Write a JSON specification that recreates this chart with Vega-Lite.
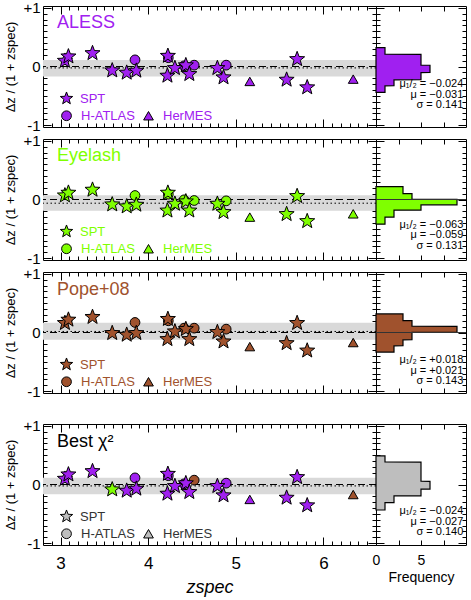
{
"$schema":"https://vega.github.io/schema/vega-lite/v6.json",
"padding":{"left":4,"top":0,"right":0,"bottom":0},
"config":{"font":"Liberation Sans","view":{"stroke":"black","strokeWidth":1},"axis":{"domain":false,"grid":false,"tickColor":"black","labelColor":"black","titleColor":"black","titleFontWeight":"normal","tickWidth":1,"labelFont":"Liberation Sans","titleFont":"Liberation Sans"},"legend":{"labelFont":"Liberation Sans"}},
"datasets":{
"stats":[
{"panel":"ALESS","label":"ALESS","muh":-0.024,"blo":-0.172,"bhi":0.110,"st":"μ₁/₂ = −0.024\nμ = −0.031\nσ = 0.141"},
{"panel":"Eyelash","label":"Eyelash","muh":-0.063,"blo":-0.190,"bhi":0.072,"st":"μ₁/₂ = −0.063\nμ = −0.059\nσ = 0.131"},
{"panel":"Pope","label":"Pope+08","muh":0.018,"blo":-0.122,"bhi":0.164,"st":"μ₁/₂ = +0.018\nμ = +0.021\nσ = 0.143"},
{"panel":"Best","label":"Best χ²","muh":-0.024,"blo":-0.167,"bhi":0.113,"st":"μ₁/₂ = −0.024\nμ = −0.027\nσ = 0.140"}
],
"hstep":[
{"panel":"ALESS","y":-0.44,"n":1},{"panel":"ALESS","y":-0.329,"n":1},{"panel":"ALESS","y":-0.328,"n":2},{"panel":"ALESS","y":-0.226,"n":2},{"panel":"ALESS","y":-0.225,"n":5},{"panel":"ALESS","y":-0.103,"n":5},{"panel":"ALESS","y":-0.102,"n":6},{"panel":"ALESS","y":0.021,"n":6},{"panel":"ALESS","y":0.022,"n":5},{"panel":"ALESS","y":0.208,"n":5},{"panel":"ALESS","y":0.209,"n":1},{"panel":"ALESS","y":0.322,"n":1},
{"panel":"Eyelash","y":-0.42,"n":1},{"panel":"Eyelash","y":-0.301,"n":1},{"panel":"Eyelash","y":-0.30,"n":2},{"panel":"Eyelash","y":-0.181,"n":2},{"panel":"Eyelash","y":-0.18,"n":5},{"panel":"Eyelash","y":-0.091,"n":5},{"panel":"Eyelash","y":-0.09,"n":9},{"panel":"Eyelash","y":0.004,"n":9},{"panel":"Eyelash","y":0.005,"n":4},{"panel":"Eyelash","y":0.099,"n":4},{"panel":"Eyelash","y":0.10,"n":3},{"panel":"Eyelash","y":0.22,"n":3},
{"panel":"Pope","y":-0.334,"n":2},{"panel":"Pope","y":-0.227,"n":2},{"panel":"Pope","y":-0.226,"n":3},{"panel":"Pope","y":-0.124,"n":3},{"panel":"Pope","y":-0.123,"n":4},{"panel":"Pope","y":0.002,"n":4},{"panel":"Pope","y":0.003,"n":9},{"panel":"Pope","y":0.105,"n":9},{"panel":"Pope","y":0.106,"n":4},{"panel":"Pope","y":0.201,"n":4},{"panel":"Pope","y":0.202,"n":3},{"panel":"Pope","y":0.317,"n":3},
{"panel":"Best","y":-0.434,"n":1},{"panel":"Best","y":-0.308,"n":1},{"panel":"Best","y":-0.307,"n":2},{"panel":"Best","y":-0.194,"n":2},{"panel":"Best","y":-0.193,"n":5},{"panel":"Best","y":-0.079,"n":5},{"panel":"Best","y":-0.078,"n":6},{"panel":"Best","y":0.054,"n":6},{"panel":"Best","y":0.055,"n":5},{"panel":"Best","y":0.382,"n":5},{"panel":"Best","y":0.383,"n":1},{"panel":"Best","y":0.486,"n":1}
],
"pts":[
{"panel":"ALESS","z":3.05,"dz":0.096,"survey":"SPT","tmpl":"ALESS"},
{"panel":"ALESS","z":3.09,"dz":0.17,"survey":"SPT","tmpl":"ALESS"},
{"panel":"ALESS","z":3.365,"dz":0.226,"survey":"SPT","tmpl":"ALESS"},
{"panel":"ALESS","z":3.59,"dz":-0.068,"survey":"SPT","tmpl":"ALESS"},
{"panel":"ALESS","z":3.755,"dz":-0.107,"survey":"SPT","tmpl":"ALESS"},
{"panel":"ALESS","z":3.85,"dz":0.113,"survey":"H-ATLAS","tmpl":"ALESS"},
{"panel":"ALESS","z":3.865,"dz":-0.073,"survey":"SPT","tmpl":"ALESS"},
{"panel":"ALESS","z":4.225,"dz":0.18,"survey":"SPT","tmpl":"ALESS"},
{"panel":"ALESS","z":4.23,"dz":0.15,"survey":"H-ATLAS","tmpl":"ALESS"},
{"panel":"ALESS","z":4.22,"dz":-0.158,"survey":"SPT","tmpl":"ALESS"},
{"panel":"ALESS","z":4.305,"dz":-0.028,"survey":"SPT","tmpl":"ALESS"},
{"panel":"ALESS","z":4.41,"dz":0.011,"survey":"H-ATLAS","tmpl":"ALESS"},
{"panel":"ALESS","z":4.43,"dz":0.02,"survey":"SPT","tmpl":"ALESS"},
{"panel":"ALESS","z":4.47,"dz":-0.13,"survey":"SPT","tmpl":"ALESS"},
{"panel":"ALESS","z":4.525,"dz":0.023,"survey":"H-ATLAS","tmpl":"ALESS"},
{"panel":"ALESS","z":4.79,"dz":-0.028,"survey":"SPT","tmpl":"ALESS"},
{"panel":"ALESS","z":4.86,"dz":-0.186,"survey":"SPT","tmpl":"ALESS"},
{"panel":"ALESS","z":4.89,"dz":0.023,"survey":"H-ATLAS","tmpl":"ALESS"},
{"panel":"ALESS","z":5.16,"dz":-0.254,"survey":"HerMES","tmpl":"ALESS"},
{"panel":"ALESS","z":5.58,"dz":-0.226,"survey":"SPT","tmpl":"ALESS"},
{"panel":"ALESS","z":5.7,"dz":0.124,"survey":"SPT","tmpl":"ALESS"},
{"panel":"ALESS","z":5.815,"dz":-0.356,"survey":"SPT","tmpl":"ALESS"},
{"panel":"ALESS","z":6.34,"dz":-0.215,"survey":"HerMES","tmpl":"ALESS"},
{"panel":"Eyelash","z":3.05,"dz":0.068,"survey":"SPT","tmpl":"Eyelash"},
{"panel":"Eyelash","z":3.09,"dz":0.114,"survey":"SPT","tmpl":"Eyelash"},
{"panel":"Eyelash","z":3.365,"dz":0.165,"survey":"SPT","tmpl":"Eyelash"},
{"panel":"Eyelash","z":3.59,"dz":-0.085,"survey":"SPT","tmpl":"Eyelash"},
{"panel":"Eyelash","z":3.755,"dz":-0.119,"survey":"SPT","tmpl":"Eyelash"},
{"panel":"Eyelash","z":3.85,"dz":0.068,"survey":"H-ATLAS","tmpl":"Eyelash"},
{"panel":"Eyelash","z":3.865,"dz":-0.091,"survey":"SPT","tmpl":"Eyelash"},
{"panel":"Eyelash","z":4.225,"dz":0.114,"survey":"SPT","tmpl":"Eyelash"},
{"panel":"Eyelash","z":4.23,"dz":0.09,"survey":"H-ATLAS","tmpl":"Eyelash"},
{"panel":"Eyelash","z":4.22,"dz":-0.19,"survey":"SPT","tmpl":"Eyelash"},
{"panel":"Eyelash","z":4.305,"dz":-0.074,"survey":"SPT","tmpl":"Eyelash"},
{"panel":"Eyelash","z":4.41,"dz":-0.006,"survey":"H-ATLAS","tmpl":"Eyelash"},
{"panel":"Eyelash","z":4.43,"dz":-0.034,"survey":"SPT","tmpl":"Eyelash"},
{"panel":"Eyelash","z":4.47,"dz":-0.19,"survey":"SPT","tmpl":"Eyelash"},
{"panel":"Eyelash","z":4.525,"dz":-0.017,"survey":"H-ATLAS","tmpl":"Eyelash"},
{"panel":"Eyelash","z":4.79,"dz":-0.074,"survey":"SPT","tmpl":"Eyelash"},
{"panel":"Eyelash","z":4.86,"dz":-0.216,"survey":"SPT","tmpl":"Eyelash"},
{"panel":"Eyelash","z":4.89,"dz":-0.023,"survey":"H-ATLAS","tmpl":"Eyelash"},
{"panel":"Eyelash","z":5.16,"dz":-0.30,"survey":"HerMES","tmpl":"Eyelash"},
{"panel":"Eyelash","z":5.58,"dz":-0.25,"survey":"SPT","tmpl":"Eyelash"},
{"panel":"Eyelash","z":5.7,"dz":0.057,"survey":"SPT","tmpl":"Eyelash"},
{"panel":"Eyelash","z":5.815,"dz":-0.37,"survey":"SPT","tmpl":"Eyelash"},
{"panel":"Eyelash","z":6.34,"dz":-0.244,"survey":"HerMES","tmpl":"Eyelash"},
{"panel":"Pope","z":3.05,"dz":0.16,"survey":"SPT","tmpl":"Pope+08"},
{"panel":"Pope","z":3.09,"dz":0.217,"survey":"SPT","tmpl":"Pope+08"},
{"panel":"Pope","z":3.365,"dz":0.263,"survey":"SPT","tmpl":"Pope+08"},
{"panel":"Pope","z":3.59,"dz":-0.011,"survey":"SPT","tmpl":"Pope+08"},
{"panel":"Pope","z":3.755,"dz":-0.04,"survey":"SPT","tmpl":"Pope+08"},
{"panel":"Pope","z":3.85,"dz":0.171,"survey":"H-ATLAS","tmpl":"Pope+08"},
{"panel":"Pope","z":3.865,"dz":-0.011,"survey":"SPT","tmpl":"Pope+08"},
{"panel":"Pope","z":4.225,"dz":0.229,"survey":"SPT","tmpl":"Pope+08"},
{"panel":"Pope","z":4.23,"dz":0.2,"survey":"H-ATLAS","tmpl":"Pope+08"},
{"panel":"Pope","z":4.22,"dz":-0.114,"survey":"SPT","tmpl":"Pope+08"},
{"panel":"Pope","z":4.305,"dz":0.017,"survey":"SPT","tmpl":"Pope+08"},
{"panel":"Pope","z":4.41,"dz":0.074,"survey":"H-ATLAS","tmpl":"Pope+08"},
{"panel":"Pope","z":4.43,"dz":0.057,"survey":"SPT","tmpl":"Pope+08"},
{"panel":"Pope","z":4.47,"dz":-0.114,"survey":"SPT","tmpl":"Pope+08"},
{"panel":"Pope","z":4.525,"dz":0.074,"survey":"H-ATLAS","tmpl":"Pope+08"},
{"panel":"Pope","z":4.79,"dz":0.006,"survey":"SPT","tmpl":"Pope+08"},
{"panel":"Pope","z":4.86,"dz":-0.154,"survey":"SPT","tmpl":"Pope+08"},
{"panel":"Pope","z":4.89,"dz":0.057,"survey":"H-ATLAS","tmpl":"Pope+08"},
{"panel":"Pope","z":5.16,"dz":-0.24,"survey":"HerMES","tmpl":"Pope+08"},
{"panel":"Pope","z":5.58,"dz":-0.183,"survey":"SPT","tmpl":"Pope+08"},
{"panel":"Pope","z":5.7,"dz":0.16,"survey":"SPT","tmpl":"Pope+08"},
{"panel":"Pope","z":5.815,"dz":-0.309,"survey":"SPT","tmpl":"Pope+08"},
{"panel":"Pope","z":6.34,"dz":-0.171,"survey":"HerMES","tmpl":"Pope+08"},
{"panel":"Best","z":3.05,"dz":0.096,"survey":"SPT","tmpl":"ALESS"},
{"panel":"Best","z":3.09,"dz":0.17,"survey":"SPT","tmpl":"ALESS"},
{"panel":"Best","z":3.365,"dz":0.226,"survey":"SPT","tmpl":"ALESS"},
{"panel":"Best","z":3.59,"dz":-0.085,"survey":"SPT","tmpl":"Eyelash"},
{"panel":"Best","z":3.755,"dz":-0.107,"survey":"SPT","tmpl":"ALESS"},
{"panel":"Best","z":3.85,"dz":0.113,"survey":"H-ATLAS","tmpl":"ALESS"},
{"panel":"Best","z":3.865,"dz":-0.073,"survey":"SPT","tmpl":"ALESS"},
{"panel":"Best","z":4.225,"dz":0.18,"survey":"SPT","tmpl":"ALESS"},
{"panel":"Best","z":4.23,"dz":0.15,"survey":"H-ATLAS","tmpl":"ALESS"},
{"panel":"Best","z":4.22,"dz":-0.158,"survey":"SPT","tmpl":"ALESS"},
{"panel":"Best","z":4.305,"dz":-0.028,"survey":"SPT","tmpl":"ALESS"},
{"panel":"Best","z":4.41,"dz":0.011,"survey":"H-ATLAS","tmpl":"ALESS"},
{"panel":"Best","z":4.43,"dz":0.02,"survey":"SPT","tmpl":"ALESS"},
{"panel":"Best","z":4.47,"dz":-0.13,"survey":"SPT","tmpl":"ALESS"},
{"panel":"Best","z":4.525,"dz":0.074,"survey":"H-ATLAS","tmpl":"Pope+08"},
{"panel":"Best","z":4.79,"dz":-0.028,"survey":"SPT","tmpl":"ALESS"},
{"panel":"Best","z":4.86,"dz":-0.186,"survey":"SPT","tmpl":"ALESS"},
{"panel":"Best","z":4.89,"dz":0.023,"survey":"H-ATLAS","tmpl":"ALESS"},
{"panel":"Best","z":5.16,"dz":-0.254,"survey":"HerMES","tmpl":"ALESS"},
{"panel":"Best","z":5.58,"dz":-0.226,"survey":"SPT","tmpl":"ALESS"},
{"panel":"Best","z":5.7,"dz":0.124,"survey":"SPT","tmpl":"ALESS"},
{"panel":"Best","z":5.815,"dz":-0.356,"survey":"SPT","tmpl":"ALESS"},
{"panel":"Best","z":6.34,"dz":-0.171,"survey":"HerMES","tmpl":"Pope+08"}
]
},
"columns":2,
"align":"each",
"bounds":"flush",
"spacing":{"row":12,"column":0},
"concat":[
{"width":333,"height":121,
"layer":[
{"data":{"name":"stats"},"transform":[{"filter":"datum.panel=='ALESS'"}],"mark":{"type":"rect","color":"#d9d9d9"},"encoding":{"x":{"datum":2.8,"type":"quantitative","scale":{"domain":[2.8,6.6],"nice":false,"zero":false},"axis":null},"x2":{"datum":6.6},"y":{"field":"blo","type":"quantitative","scale":{"domain":[-1.03,1.03],"nice":false,"zero":false},"axis":null},"y2":{"field":"bhi"}}},
{"data":{"name":"stats"},"transform":[{"filter":"datum.panel=='ALESS'"}],"mark":{"type":"rule","color":"black","strokeDash":[7,4],"strokeWidth":1},"encoding":{"y":{"datum":0,"type":"quantitative","scale":{"domain":[-1.03,1.03],"nice":false,"zero":false},"axis":null}}},
{"data":{"name":"stats"},"transform":[{"filter":"datum.panel=='ALESS'"}],"mark":{"type":"rule","color":"black","strokeDash":[1.5,2.5],"strokeWidth":1},"encoding":{"y":{"field":"muh","type":"quantitative","scale":{"domain":[-1.03,1.03],"nice":false,"zero":false},"axis":null}}},
{"data":{"name":"pts"},"transform":[{"filter":"datum.panel=='ALESS' && datum.survey!='SPT'"}],"mark":{"type":"point","filled":true,"opacity":1,"stroke":"black","strokeWidth":1,"size":95},"encoding":{"x":{"field":"z","type":"quantitative","scale":{"domain":[2.8,6.6],"nice":false,"zero":false},"axis":{"orient":"bottom","values":[2.9,3,3.1,3.2,3.3,3.4,3.5,3.6,3.7,3.8,3.9,4,4.1,4.2,4.3,4.4,4.5,4.6,4.7,4.8,4.9,5,5.1,5.2,5.3,5.4,5.5,5.6,5.7,5.8,5.9,6,6.1,6.2,6.3,6.4,6.5],"tickSize":{"condition":{"test":"datum.value % 1 == 0","value":-8},"value":-4},"labels":false,"title":null}},"y":{"field":"dz","type":"quantitative","scale":{"domain":[-1.03,1.03],"nice":false,"zero":false},"axis":{"orient":"left","values":[-1,-0.9,-0.8,-0.7,-0.6,-0.5,-0.4,-0.3,-0.2,-0.1,0,0.1,0.2,0.3,0.4,0.5,0.6,0.7,0.8,0.9,1],"tickSize":{"condition":{"test":"datum.value % 1 == 0","value":-8},"value":-4},"labelExpr":"datum.value == 1 ? '+1' : datum.value == -1 ? '-1' : datum.value == 0 ? '0' : ''","labelOverlap":false,"labelPadding":11,"labelFontSize":15,"title":"Δz / (1 + zspec)","titleFontSize":13,"titlePadding":5}},"fill":{"field":"tmpl","type":"nominal","scale":{"domain":["ALESS","Eyelash","Pope+08"],"range":["#A020F0","#7FFF00","#A0522D"]},"legend":null},"shape":{"field":"survey","type":"nominal","scale":{"domain":["H-ATLAS","HerMES"],"range":["circle","triangle-up"]},"legend":{"orient":"none","direction":"horizontal","legendX":17,"legendY":103,"title":null,"padding":0,"symbolFillColor":"#A020F0","symbolStrokeColor":"black","symbolStrokeWidth":1,"symbolSize":95,"labelColor":"#A020F0","labelFontSize":13,"labelOffset":8,"columnPadding":6}}}},
{"data":{"name":"pts"},"transform":[{"filter":"datum.panel=='ALESS' && datum.survey=='SPT'"}],"mark":{"type":"point","filled":true,"opacity":1,"stroke":"black","strokeWidth":1,"size":250},"encoding":{"x":{"field":"z","type":"quantitative","scale":{"domain":[2.8,6.6],"nice":false,"zero":false},"axis":{"orient":"top","values":[2.9,3,3.1,3.2,3.3,3.4,3.5,3.6,3.7,3.8,3.9,4,4.1,4.2,4.3,4.4,4.5,4.6,4.7,4.8,4.9,5,5.1,5.2,5.3,5.4,5.5,5.6,5.7,5.8,5.9,6,6.1,6.2,6.3,6.4,6.5],"tickSize":{"condition":{"test":"datum.value % 1 == 0","value":-8},"value":-4},"labels":false,"title":null}},"y":{"field":"dz","type":"quantitative","scale":{"domain":[-1.03,1.03],"nice":false,"zero":false},"axis":{"orient":"right","values":[-1,-0.9,-0.8,-0.7,-0.6,-0.5,-0.4,-0.3,-0.2,-0.1,0,0.1,0.2,0.3,0.4,0.5,0.6,0.7,0.8,0.9,1],"tickSize":{"condition":{"test":"datum.value % 1 == 0","value":-8},"value":-4},"labels":false,"title":null,"minExtent":0,"maxExtent":0}},"fill":{"field":"tmpl","type":"nominal","scale":{"domain":["ALESS","Eyelash","Pope+08"],"range":["#A020F0","#7FFF00","#A0522D"]},"legend":null},"shape":{"field":"survey","type":"nominal","scale":{"domain":["SPT"],"range":["M0,-1L0.247,-0.34L0.951,-0.309L0.399,0.13L0.588,0.809L0,0.42L-0.588,0.809L-0.399,0.13L-0.951,-0.309L-0.247,-0.34Z"]},"legend":{"orient":"none","legendX":16,"legendY":85,"title":null,"padding":0,"symbolFillColor":"#A020F0","symbolStrokeColor":"black","symbolStrokeWidth":1,"symbolSize":170,"labelColor":"#A020F0","labelFontSize":13,"labelOffset":6}}}},
{"data":{"name":"stats"},"transform":[{"filter":"datum.panel=='ALESS'"}],"mark":{"type":"text","align":"left","baseline":"alphabetic","fontSize":18,"color":"#A020F0"},"encoding":{"x":{"datum":2.96,"type":"quantitative","scale":{"domain":[2.8,6.6],"nice":false,"zero":false},"axis":null},"y":{"datum":0.66,"type":"quantitative","scale":{"domain":[-1.03,1.03],"nice":false,"zero":false},"axis":null},"text":{"field":"label"}}}
],
"resolve":{"axis":{"x":"independent","y":"independent"},"scale":{"shape":"independent"},"legend":{"shape":"independent"}}},
{"width":90,"height":121,
"layer":[
{"data":{"name":"hstep"},"transform":[{"filter":"datum.panel=='ALESS'"}],"mark":{"type":"area","orient":"horizontal","interpolate":"linear","color":"#A020F0","stroke":"black","strokeWidth":1.2,"opacity":1},"encoding":{"y":{"field":"y","type":"quantitative","scale":{"domain":[-1.03,1.03],"nice":false,"zero":false},"axis":{"orient":"left","values":[-1,-0.9,-0.8,-0.7,-0.6,-0.5,-0.4,-0.3,-0.2,-0.1,0,0.1,0.2,0.3,0.4,0.5,0.6,0.7,0.8,0.9,1],"tickSize":{"condition":{"test":"datum.value % 1 == 0","value":-8},"value":-4},"labels":false,"title":null,"minExtent":0,"maxExtent":0}},"x":{"field":"n","type":"quantitative","stack":null,"scale":{"domain":[0,10],"nice":false,"zero":false},"axis":{"orient":"bottom","values":[0,2.5,5,7.5],"tickSize":-5,"labels":false,"title":null}}}},
{"data":{"name":"hstep"},"transform":[{"filter":"datum.panel=='ALESS'"}],"mark":{"type":"point","opacity":0},"encoding":{"y":{"field":"y","type":"quantitative","scale":{"domain":[-1.03,1.03],"nice":false,"zero":false},"axis":{"orient":"right","values":[-1,-0.9,-0.8,-0.7,-0.6,-0.5,-0.4,-0.3,-0.2,-0.1,0,0.1,0.2,0.3,0.4,0.5,0.6,0.7,0.8,0.9,1],"tickSize":{"condition":{"test":"datum.value % 1 == 0","value":-8},"value":-4},"labels":false,"title":null}},"x":{"field":"n","type":"quantitative","scale":{"domain":[0,10],"nice":false,"zero":false},"axis":{"orient":"top","values":[0,2.5,5,7.5],"tickSize":-5,"labels":false,"title":null}}}},
{"data":{"name":"stats"},"transform":[{"filter":"datum.panel=='ALESS'"}],"mark":{"type":"text","align":"right","baseline":"top","fontSize":11,"lineBreak":"\n","lineHeight":10.5,"color":"black"},"encoding":{"x":{"datum":9.7,"type":"quantitative","scale":{"domain":[0,10],"nice":false,"zero":false},"axis":null},"y":{"datum":-0.2,"type":"quantitative","scale":{"domain":[-1.03,1.03],"nice":false,"zero":false},"axis":null},"text":{"field":"st"}}}
],
"resolve":{"axis":{"x":"independent","y":"independent"}}},
{"width":333,"height":121,
"layer":[
{"data":{"name":"stats"},"transform":[{"filter":"datum.panel=='Eyelash'"}],"mark":{"type":"rect","color":"#d9d9d9"},"encoding":{"x":{"datum":2.8,"type":"quantitative","scale":{"domain":[2.8,6.6],"nice":false,"zero":false},"axis":null},"x2":{"datum":6.6},"y":{"field":"blo","type":"quantitative","scale":{"domain":[-1.03,1.03],"nice":false,"zero":false},"axis":null},"y2":{"field":"bhi"}}},
{"data":{"name":"stats"},"transform":[{"filter":"datum.panel=='Eyelash'"}],"mark":{"type":"rule","color":"black","strokeDash":[7,4],"strokeWidth":1},"encoding":{"y":{"datum":0,"type":"quantitative","scale":{"domain":[-1.03,1.03],"nice":false,"zero":false},"axis":null}}},
{"data":{"name":"stats"},"transform":[{"filter":"datum.panel=='Eyelash'"}],"mark":{"type":"rule","color":"black","strokeDash":[1.5,2.5],"strokeWidth":1},"encoding":{"y":{"field":"muh","type":"quantitative","scale":{"domain":[-1.03,1.03],"nice":false,"zero":false},"axis":null}}},
{"data":{"name":"pts"},"transform":[{"filter":"datum.panel=='Eyelash' && datum.survey!='SPT'"}],"mark":{"type":"point","filled":true,"opacity":1,"stroke":"black","strokeWidth":1,"size":95},"encoding":{"x":{"field":"z","type":"quantitative","scale":{"domain":[2.8,6.6],"nice":false,"zero":false},"axis":{"orient":"bottom","values":[2.9,3,3.1,3.2,3.3,3.4,3.5,3.6,3.7,3.8,3.9,4,4.1,4.2,4.3,4.4,4.5,4.6,4.7,4.8,4.9,5,5.1,5.2,5.3,5.4,5.5,5.6,5.7,5.8,5.9,6,6.1,6.2,6.3,6.4,6.5],"tickSize":{"condition":{"test":"datum.value % 1 == 0","value":-8},"value":-4},"labels":false,"title":null}},"y":{"field":"dz","type":"quantitative","scale":{"domain":[-1.03,1.03],"nice":false,"zero":false},"axis":{"orient":"left","values":[-1,-0.9,-0.8,-0.7,-0.6,-0.5,-0.4,-0.3,-0.2,-0.1,0,0.1,0.2,0.3,0.4,0.5,0.6,0.7,0.8,0.9,1],"tickSize":{"condition":{"test":"datum.value % 1 == 0","value":-8},"value":-4},"labelExpr":"datum.value == 1 ? '+1' : datum.value == -1 ? '-1' : datum.value == 0 ? '0' : ''","labelOverlap":false,"labelPadding":11,"labelFontSize":15,"title":"Δz / (1 + zspec)","titleFontSize":13,"titlePadding":5}},"fill":{"field":"tmpl","type":"nominal","scale":{"domain":["ALESS","Eyelash","Pope+08"],"range":["#A020F0","#7FFF00","#A0522D"]},"legend":null},"shape":{"field":"survey","type":"nominal","scale":{"domain":["H-ATLAS","HerMES"],"range":["circle","triangle-up"]},"legend":{"orient":"none","direction":"horizontal","legendX":17,"legendY":103,"title":null,"padding":0,"symbolFillColor":"#7FFF00","symbolStrokeColor":"black","symbolStrokeWidth":1,"symbolSize":95,"labelColor":"#7FFF00","labelFontSize":13,"labelOffset":8,"columnPadding":6}}}},
{"data":{"name":"pts"},"transform":[{"filter":"datum.panel=='Eyelash' && datum.survey=='SPT'"}],"mark":{"type":"point","filled":true,"opacity":1,"stroke":"black","strokeWidth":1,"size":250},"encoding":{"x":{"field":"z","type":"quantitative","scale":{"domain":[2.8,6.6],"nice":false,"zero":false},"axis":{"orient":"top","values":[2.9,3,3.1,3.2,3.3,3.4,3.5,3.6,3.7,3.8,3.9,4,4.1,4.2,4.3,4.4,4.5,4.6,4.7,4.8,4.9,5,5.1,5.2,5.3,5.4,5.5,5.6,5.7,5.8,5.9,6,6.1,6.2,6.3,6.4,6.5],"tickSize":{"condition":{"test":"datum.value % 1 == 0","value":-8},"value":-4},"labels":false,"title":null}},"y":{"field":"dz","type":"quantitative","scale":{"domain":[-1.03,1.03],"nice":false,"zero":false},"axis":{"orient":"right","values":[-1,-0.9,-0.8,-0.7,-0.6,-0.5,-0.4,-0.3,-0.2,-0.1,0,0.1,0.2,0.3,0.4,0.5,0.6,0.7,0.8,0.9,1],"tickSize":{"condition":{"test":"datum.value % 1 == 0","value":-8},"value":-4},"labels":false,"title":null,"minExtent":0,"maxExtent":0}},"fill":{"field":"tmpl","type":"nominal","scale":{"domain":["ALESS","Eyelash","Pope+08"],"range":["#A020F0","#7FFF00","#A0522D"]},"legend":null},"shape":{"field":"survey","type":"nominal","scale":{"domain":["SPT"],"range":["M0,-1L0.247,-0.34L0.951,-0.309L0.399,0.13L0.588,0.809L0,0.42L-0.588,0.809L-0.399,0.13L-0.951,-0.309L-0.247,-0.34Z"]},"legend":{"orient":"none","legendX":16,"legendY":85,"title":null,"padding":0,"symbolFillColor":"#7FFF00","symbolStrokeColor":"black","symbolStrokeWidth":1,"symbolSize":170,"labelColor":"#7FFF00","labelFontSize":13,"labelOffset":6}}}},
{"data":{"name":"stats"},"transform":[{"filter":"datum.panel=='Eyelash'"}],"mark":{"type":"text","align":"left","baseline":"alphabetic","fontSize":18,"color":"#7FFF00"},"encoding":{"x":{"datum":2.96,"type":"quantitative","scale":{"domain":[2.8,6.6],"nice":false,"zero":false},"axis":null},"y":{"datum":0.66,"type":"quantitative","scale":{"domain":[-1.03,1.03],"nice":false,"zero":false},"axis":null},"text":{"field":"label"}}}
],
"resolve":{"axis":{"x":"independent","y":"independent"},"scale":{"shape":"independent"},"legend":{"shape":"independent"}}},
{"width":90,"height":121,
"layer":[
{"data":{"name":"hstep"},"transform":[{"filter":"datum.panel=='Eyelash'"}],"mark":{"type":"area","orient":"horizontal","interpolate":"linear","color":"#7FFF00","stroke":"black","strokeWidth":1.2,"opacity":1},"encoding":{"y":{"field":"y","type":"quantitative","scale":{"domain":[-1.03,1.03],"nice":false,"zero":false},"axis":{"orient":"left","values":[-1,-0.9,-0.8,-0.7,-0.6,-0.5,-0.4,-0.3,-0.2,-0.1,0,0.1,0.2,0.3,0.4,0.5,0.6,0.7,0.8,0.9,1],"tickSize":{"condition":{"test":"datum.value % 1 == 0","value":-8},"value":-4},"labels":false,"title":null,"minExtent":0,"maxExtent":0}},"x":{"field":"n","type":"quantitative","stack":null,"scale":{"domain":[0,10],"nice":false,"zero":false},"axis":{"orient":"bottom","values":[0,2.5,5,7.5],"tickSize":-5,"labels":false,"title":null}}}},
{"data":{"name":"hstep"},"transform":[{"filter":"datum.panel=='Eyelash'"}],"mark":{"type":"point","opacity":0},"encoding":{"y":{"field":"y","type":"quantitative","scale":{"domain":[-1.03,1.03],"nice":false,"zero":false},"axis":{"orient":"right","values":[-1,-0.9,-0.8,-0.7,-0.6,-0.5,-0.4,-0.3,-0.2,-0.1,0,0.1,0.2,0.3,0.4,0.5,0.6,0.7,0.8,0.9,1],"tickSize":{"condition":{"test":"datum.value % 1 == 0","value":-8},"value":-4},"labels":false,"title":null}},"x":{"field":"n","type":"quantitative","scale":{"domain":[0,10],"nice":false,"zero":false},"axis":{"orient":"top","values":[0,2.5,5,7.5],"tickSize":-5,"labels":false,"title":null}}}},
{"data":{"name":"stats"},"transform":[{"filter":"datum.panel=='Eyelash'"}],"mark":{"type":"rule","color":"#333333","strokeWidth":1},"encoding":{"y":{"datum":0,"type":"quantitative","scale":{"domain":[-1.03,1.03],"nice":false,"zero":false},"axis":null}}},
{"data":{"name":"stats"},"transform":[{"filter":"datum.panel=='Eyelash'"}],"mark":{"type":"text","align":"right","baseline":"top","fontSize":11,"lineBreak":"\n","lineHeight":10.5,"color":"black"},"encoding":{"x":{"datum":9.7,"type":"quantitative","scale":{"domain":[0,10],"nice":false,"zero":false},"axis":null},"y":{"datum":-0.33,"type":"quantitative","scale":{"domain":[-1.03,1.03],"nice":false,"zero":false},"axis":null},"text":{"field":"st"}}}
],
"resolve":{"axis":{"x":"independent","y":"independent"}}},
{"width":333,"height":121,
"layer":[
{"data":{"name":"stats"},"transform":[{"filter":"datum.panel=='Pope'"}],"mark":{"type":"rect","color":"#d9d9d9"},"encoding":{"x":{"datum":2.8,"type":"quantitative","scale":{"domain":[2.8,6.6],"nice":false,"zero":false},"axis":null},"x2":{"datum":6.6},"y":{"field":"blo","type":"quantitative","scale":{"domain":[-1.03,1.03],"nice":false,"zero":false},"axis":null},"y2":{"field":"bhi"}}},
{"data":{"name":"stats"},"transform":[{"filter":"datum.panel=='Pope'"}],"mark":{"type":"rule","color":"black","strokeDash":[7,4],"strokeWidth":1},"encoding":{"y":{"datum":0,"type":"quantitative","scale":{"domain":[-1.03,1.03],"nice":false,"zero":false},"axis":null}}},
{"data":{"name":"stats"},"transform":[{"filter":"datum.panel=='Pope'"}],"mark":{"type":"rule","color":"black","strokeDash":[1.5,2.5],"strokeWidth":1},"encoding":{"y":{"field":"muh","type":"quantitative","scale":{"domain":[-1.03,1.03],"nice":false,"zero":false},"axis":null}}},
{"data":{"name":"pts"},"transform":[{"filter":"datum.panel=='Pope' && datum.survey!='SPT'"}],"mark":{"type":"point","filled":true,"opacity":1,"stroke":"black","strokeWidth":1,"size":95},"encoding":{"x":{"field":"z","type":"quantitative","scale":{"domain":[2.8,6.6],"nice":false,"zero":false},"axis":{"orient":"bottom","values":[2.9,3,3.1,3.2,3.3,3.4,3.5,3.6,3.7,3.8,3.9,4,4.1,4.2,4.3,4.4,4.5,4.6,4.7,4.8,4.9,5,5.1,5.2,5.3,5.4,5.5,5.6,5.7,5.8,5.9,6,6.1,6.2,6.3,6.4,6.5],"tickSize":{"condition":{"test":"datum.value % 1 == 0","value":-8},"value":-4},"labels":false,"title":null}},"y":{"field":"dz","type":"quantitative","scale":{"domain":[-1.03,1.03],"nice":false,"zero":false},"axis":{"orient":"left","values":[-1,-0.9,-0.8,-0.7,-0.6,-0.5,-0.4,-0.3,-0.2,-0.1,0,0.1,0.2,0.3,0.4,0.5,0.6,0.7,0.8,0.9,1],"tickSize":{"condition":{"test":"datum.value % 1 == 0","value":-8},"value":-4},"labelExpr":"datum.value == 1 ? '+1' : datum.value == -1 ? '-1' : datum.value == 0 ? '0' : ''","labelOverlap":false,"labelPadding":11,"labelFontSize":15,"title":"Δz / (1 + zspec)","titleFontSize":13,"titlePadding":5}},"fill":{"field":"tmpl","type":"nominal","scale":{"domain":["ALESS","Eyelash","Pope+08"],"range":["#A020F0","#7FFF00","#A0522D"]},"legend":null},"shape":{"field":"survey","type":"nominal","scale":{"domain":["H-ATLAS","HerMES"],"range":["circle","triangle-up"]},"legend":{"orient":"none","direction":"horizontal","legendX":17,"legendY":103,"title":null,"padding":0,"symbolFillColor":"#A0522D","symbolStrokeColor":"black","symbolStrokeWidth":1,"symbolSize":95,"labelColor":"#A0522D","labelFontSize":13,"labelOffset":8,"columnPadding":6}}}},
{"data":{"name":"pts"},"transform":[{"filter":"datum.panel=='Pope' && datum.survey=='SPT'"}],"mark":{"type":"point","filled":true,"opacity":1,"stroke":"black","strokeWidth":1,"size":250},"encoding":{"x":{"field":"z","type":"quantitative","scale":{"domain":[2.8,6.6],"nice":false,"zero":false},"axis":{"orient":"top","values":[2.9,3,3.1,3.2,3.3,3.4,3.5,3.6,3.7,3.8,3.9,4,4.1,4.2,4.3,4.4,4.5,4.6,4.7,4.8,4.9,5,5.1,5.2,5.3,5.4,5.5,5.6,5.7,5.8,5.9,6,6.1,6.2,6.3,6.4,6.5],"tickSize":{"condition":{"test":"datum.value % 1 == 0","value":-8},"value":-4},"labels":false,"title":null}},"y":{"field":"dz","type":"quantitative","scale":{"domain":[-1.03,1.03],"nice":false,"zero":false},"axis":{"orient":"right","values":[-1,-0.9,-0.8,-0.7,-0.6,-0.5,-0.4,-0.3,-0.2,-0.1,0,0.1,0.2,0.3,0.4,0.5,0.6,0.7,0.8,0.9,1],"tickSize":{"condition":{"test":"datum.value % 1 == 0","value":-8},"value":-4},"labels":false,"title":null,"minExtent":0,"maxExtent":0}},"fill":{"field":"tmpl","type":"nominal","scale":{"domain":["ALESS","Eyelash","Pope+08"],"range":["#A020F0","#7FFF00","#A0522D"]},"legend":null},"shape":{"field":"survey","type":"nominal","scale":{"domain":["SPT"],"range":["M0,-1L0.247,-0.34L0.951,-0.309L0.399,0.13L0.588,0.809L0,0.42L-0.588,0.809L-0.399,0.13L-0.951,-0.309L-0.247,-0.34Z"]},"legend":{"orient":"none","legendX":16,"legendY":85,"title":null,"padding":0,"symbolFillColor":"#A0522D","symbolStrokeColor":"black","symbolStrokeWidth":1,"symbolSize":170,"labelColor":"#A0522D","labelFontSize":13,"labelOffset":6}}}},
{"data":{"name":"stats"},"transform":[{"filter":"datum.panel=='Pope'"}],"mark":{"type":"text","align":"left","baseline":"alphabetic","fontSize":18,"color":"#A0522D"},"encoding":{"x":{"datum":2.96,"type":"quantitative","scale":{"domain":[2.8,6.6],"nice":false,"zero":false},"axis":null},"y":{"datum":0.64,"type":"quantitative","scale":{"domain":[-1.03,1.03],"nice":false,"zero":false},"axis":null},"text":{"field":"label"}}}
],
"resolve":{"axis":{"x":"independent","y":"independent"},"scale":{"shape":"independent"},"legend":{"shape":"independent"}}},
{"width":90,"height":121,
"layer":[
{"data":{"name":"hstep"},"transform":[{"filter":"datum.panel=='Pope'"}],"mark":{"type":"area","orient":"horizontal","interpolate":"linear","color":"#A0522D","stroke":"black","strokeWidth":1.2,"opacity":1},"encoding":{"y":{"field":"y","type":"quantitative","scale":{"domain":[-1.03,1.03],"nice":false,"zero":false},"axis":{"orient":"left","values":[-1,-0.9,-0.8,-0.7,-0.6,-0.5,-0.4,-0.3,-0.2,-0.1,0,0.1,0.2,0.3,0.4,0.5,0.6,0.7,0.8,0.9,1],"tickSize":{"condition":{"test":"datum.value % 1 == 0","value":-8},"value":-4},"labels":false,"title":null,"minExtent":0,"maxExtent":0}},"x":{"field":"n","type":"quantitative","stack":null,"scale":{"domain":[0,10],"nice":false,"zero":false},"axis":{"orient":"bottom","values":[0,2.5,5,7.5],"tickSize":-5,"labels":false,"title":null}}}},
{"data":{"name":"hstep"},"transform":[{"filter":"datum.panel=='Pope'"}],"mark":{"type":"point","opacity":0},"encoding":{"y":{"field":"y","type":"quantitative","scale":{"domain":[-1.03,1.03],"nice":false,"zero":false},"axis":{"orient":"right","values":[-1,-0.9,-0.8,-0.7,-0.6,-0.5,-0.4,-0.3,-0.2,-0.1,0,0.1,0.2,0.3,0.4,0.5,0.6,0.7,0.8,0.9,1],"tickSize":{"condition":{"test":"datum.value % 1 == 0","value":-8},"value":-4},"labels":false,"title":null}},"x":{"field":"n","type":"quantitative","scale":{"domain":[0,10],"nice":false,"zero":false},"axis":{"orient":"top","values":[0,2.5,5,7.5],"tickSize":-5,"labels":false,"title":null}}}},
{"data":{"name":"stats"},"transform":[{"filter":"datum.panel=='Pope'"}],"mark":{"type":"rule","color":"#333333","strokeWidth":1},"encoding":{"y":{"datum":0,"type":"quantitative","scale":{"domain":[-1.03,1.03],"nice":false,"zero":false},"axis":null}}},
{"data":{"name":"stats"},"transform":[{"filter":"datum.panel=='Pope'"}],"mark":{"type":"text","align":"right","baseline":"top","fontSize":11,"lineBreak":"\n","lineHeight":10.5,"color":"black"},"encoding":{"x":{"datum":9.7,"type":"quantitative","scale":{"domain":[0,10],"nice":false,"zero":false},"axis":null},"y":{"datum":-0.37,"type":"quantitative","scale":{"domain":[-1.03,1.03],"nice":false,"zero":false},"axis":null},"text":{"field":"st"}}}
],
"resolve":{"axis":{"x":"independent","y":"independent"}}},
{"width":333,"height":7,"view":{"stroke":null},"data":{"values":[{"gap":""}]},"mark":{"type":"text"},"encoding":{"text":{"field":"gap"}}},
{"width":90,"height":7,"view":{"stroke":null},"data":{"values":[{"gap":""}]},"mark":{"type":"text"},"encoding":{"text":{"field":"gap"}}},
{"width":333,"height":121,
"layer":[
{"data":{"name":"stats"},"transform":[{"filter":"datum.panel=='Best'"}],"mark":{"type":"rect","color":"#d9d9d9"},"encoding":{"x":{"datum":2.8,"type":"quantitative","scale":{"domain":[2.8,6.6],"nice":false,"zero":false},"axis":null},"x2":{"datum":6.6},"y":{"field":"blo","type":"quantitative","scale":{"domain":[-1.03,1.03],"nice":false,"zero":false},"axis":null},"y2":{"field":"bhi"}}},
{"data":{"name":"stats"},"transform":[{"filter":"datum.panel=='Best'"}],"mark":{"type":"rule","color":"black","strokeDash":[7,4],"strokeWidth":1},"encoding":{"y":{"datum":0,"type":"quantitative","scale":{"domain":[-1.03,1.03],"nice":false,"zero":false},"axis":null}}},
{"data":{"name":"stats"},"transform":[{"filter":"datum.panel=='Best'"}],"mark":{"type":"rule","color":"black","strokeDash":[1.5,2.5],"strokeWidth":1},"encoding":{"y":{"field":"muh","type":"quantitative","scale":{"domain":[-1.03,1.03],"nice":false,"zero":false},"axis":null}}},
{"data":{"name":"pts"},"transform":[{"filter":"datum.panel=='Best' && datum.survey!='SPT'"}],"mark":{"type":"point","filled":true,"opacity":1,"stroke":"black","strokeWidth":1,"size":95},"encoding":{"x":{"field":"z","type":"quantitative","scale":{"domain":[2.8,6.6],"nice":false,"zero":false},"axis":{"orient":"bottom","values":[2.9,3,3.1,3.2,3.3,3.4,3.5,3.6,3.7,3.8,3.9,4,4.1,4.2,4.3,4.4,4.5,4.6,4.7,4.8,4.9,5,5.1,5.2,5.3,5.4,5.5,5.6,5.7,5.8,5.9,6,6.1,6.2,6.3,6.4,6.5],"tickSize":{"condition":{"test":"datum.value % 1 == 0","value":-8},"value":-4},"labelExpr":"datum.value % 1 == 0 ? format(datum.value, 'd') : ''","labelOverlap":false,"labelPadding":18,"labelFontSize":17,"title":"zspec","titleFontSize":18,"titleFontStyle":"italic","titlePadding":3}},"y":{"field":"dz","type":"quantitative","scale":{"domain":[-1.03,1.03],"nice":false,"zero":false},"axis":{"orient":"left","values":[-1,-0.9,-0.8,-0.7,-0.6,-0.5,-0.4,-0.3,-0.2,-0.1,0,0.1,0.2,0.3,0.4,0.5,0.6,0.7,0.8,0.9,1],"tickSize":{"condition":{"test":"datum.value % 1 == 0","value":-8},"value":-4},"labelExpr":"datum.value == 1 ? '+1' : datum.value == -1 ? '-1' : datum.value == 0 ? '0' : ''","labelOverlap":false,"labelPadding":11,"labelFontSize":15,"title":"Δz / (1 + zspec)","titleFontSize":13,"titlePadding":5}},"fill":{"field":"tmpl","type":"nominal","scale":{"domain":["ALESS","Eyelash","Pope+08"],"range":["#A020F0","#7FFF00","#A0522D"]},"legend":null},"shape":{"field":"survey","type":"nominal","scale":{"domain":["H-ATLAS","HerMES"],"range":["circle","triangle-up"]},"legend":{"orient":"none","direction":"horizontal","legendX":17,"legendY":103,"title":null,"padding":0,"symbolFillColor":"#BEBEBE","symbolStrokeColor":"black","symbolStrokeWidth":1,"symbolSize":95,"labelColor":"#333333","labelFontSize":13,"labelOffset":8,"columnPadding":6}}}},
{"data":{"name":"pts"},"transform":[{"filter":"datum.panel=='Best' && datum.survey=='SPT'"}],"mark":{"type":"point","filled":true,"opacity":1,"stroke":"black","strokeWidth":1,"size":250},"encoding":{"x":{"field":"z","type":"quantitative","scale":{"domain":[2.8,6.6],"nice":false,"zero":false},"axis":{"orient":"top","values":[2.9,3,3.1,3.2,3.3,3.4,3.5,3.6,3.7,3.8,3.9,4,4.1,4.2,4.3,4.4,4.5,4.6,4.7,4.8,4.9,5,5.1,5.2,5.3,5.4,5.5,5.6,5.7,5.8,5.9,6,6.1,6.2,6.3,6.4,6.5],"tickSize":{"condition":{"test":"datum.value % 1 == 0","value":-8},"value":-4},"labels":false,"title":null}},"y":{"field":"dz","type":"quantitative","scale":{"domain":[-1.03,1.03],"nice":false,"zero":false},"axis":{"orient":"right","values":[-1,-0.9,-0.8,-0.7,-0.6,-0.5,-0.4,-0.3,-0.2,-0.1,0,0.1,0.2,0.3,0.4,0.5,0.6,0.7,0.8,0.9,1],"tickSize":{"condition":{"test":"datum.value % 1 == 0","value":-8},"value":-4},"labels":false,"title":null,"minExtent":0,"maxExtent":0}},"fill":{"field":"tmpl","type":"nominal","scale":{"domain":["ALESS","Eyelash","Pope+08"],"range":["#A020F0","#7FFF00","#A0522D"]},"legend":null},"shape":{"field":"survey","type":"nominal","scale":{"domain":["SPT"],"range":["M0,-1L0.247,-0.34L0.951,-0.309L0.399,0.13L0.588,0.809L0,0.42L-0.588,0.809L-0.399,0.13L-0.951,-0.309L-0.247,-0.34Z"]},"legend":{"orient":"none","legendX":16,"legendY":85,"title":null,"padding":0,"symbolFillColor":"#BEBEBE","symbolStrokeColor":"black","symbolStrokeWidth":1,"symbolSize":170,"labelColor":"#333333","labelFontSize":13,"labelOffset":6}}}},
{"data":{"name":"stats"},"transform":[{"filter":"datum.panel=='Best'"}],"mark":{"type":"text","align":"left","baseline":"alphabetic","fontSize":18,"color":"black"},"encoding":{"x":{"datum":2.96,"type":"quantitative","scale":{"domain":[2.8,6.6],"nice":false,"zero":false},"axis":null},"y":{"datum":0.63,"type":"quantitative","scale":{"domain":[-1.03,1.03],"nice":false,"zero":false},"axis":null},"text":{"field":"label"}}}
],
"resolve":{"axis":{"x":"independent","y":"independent"},"scale":{"shape":"independent"},"legend":{"shape":"independent"}}},
{"width":90,"height":121,
"layer":[
{"data":{"name":"hstep"},"transform":[{"filter":"datum.panel=='Best'"}],"mark":{"type":"area","orient":"horizontal","interpolate":"linear","color":"#BEBEBE","stroke":"black","strokeWidth":1.2,"opacity":1},"encoding":{"y":{"field":"y","type":"quantitative","scale":{"domain":[-1.03,1.03],"nice":false,"zero":false},"axis":{"orient":"left","values":[-1,-0.9,-0.8,-0.7,-0.6,-0.5,-0.4,-0.3,-0.2,-0.1,0,0.1,0.2,0.3,0.4,0.5,0.6,0.7,0.8,0.9,1],"tickSize":{"condition":{"test":"datum.value % 1 == 0","value":-8},"value":-4},"labels":false,"title":null,"minExtent":0,"maxExtent":0}},"x":{"field":"n","type":"quantitative","stack":null,"scale":{"domain":[0,10],"nice":false,"zero":false},"axis":{"orient":"bottom","values":[0,2.5,5,7.5],"tickSize":-5,"labelExpr":"datum.value == 0 || datum.value == 5 ? datum.label : ''","labelOverlap":false,"labelFlush":false,"labelPadding":13,"labelFontSize":14,"title":"Frequency","titleFontSize":14,"titlePadding":3}}}},
{"data":{"name":"hstep"},"transform":[{"filter":"datum.panel=='Best'"}],"mark":{"type":"point","opacity":0},"encoding":{"y":{"field":"y","type":"quantitative","scale":{"domain":[-1.03,1.03],"nice":false,"zero":false},"axis":{"orient":"right","values":[-1,-0.9,-0.8,-0.7,-0.6,-0.5,-0.4,-0.3,-0.2,-0.1,0,0.1,0.2,0.3,0.4,0.5,0.6,0.7,0.8,0.9,1],"tickSize":{"condition":{"test":"datum.value % 1 == 0","value":-8},"value":-4},"labels":false,"title":null}},"x":{"field":"n","type":"quantitative","scale":{"domain":[0,10],"nice":false,"zero":false},"axis":{"orient":"top","values":[0,2.5,5,7.5],"tickSize":-5,"labels":false,"title":null}}}},
{"data":{"name":"stats"},"transform":[{"filter":"datum.panel=='Best'"}],"mark":{"type":"text","align":"right","baseline":"top","fontSize":11,"lineBreak":"\n","lineHeight":10.5,"color":"black"},"encoding":{"x":{"datum":9.7,"type":"quantitative","scale":{"domain":[0,10],"nice":false,"zero":false},"axis":null},"y":{"datum":-0.35,"type":"quantitative","scale":{"domain":[-1.03,1.03],"nice":false,"zero":false},"axis":null},"text":{"field":"st"}}}
],
"resolve":{"axis":{"x":"independent","y":"independent"}}}
]
}
